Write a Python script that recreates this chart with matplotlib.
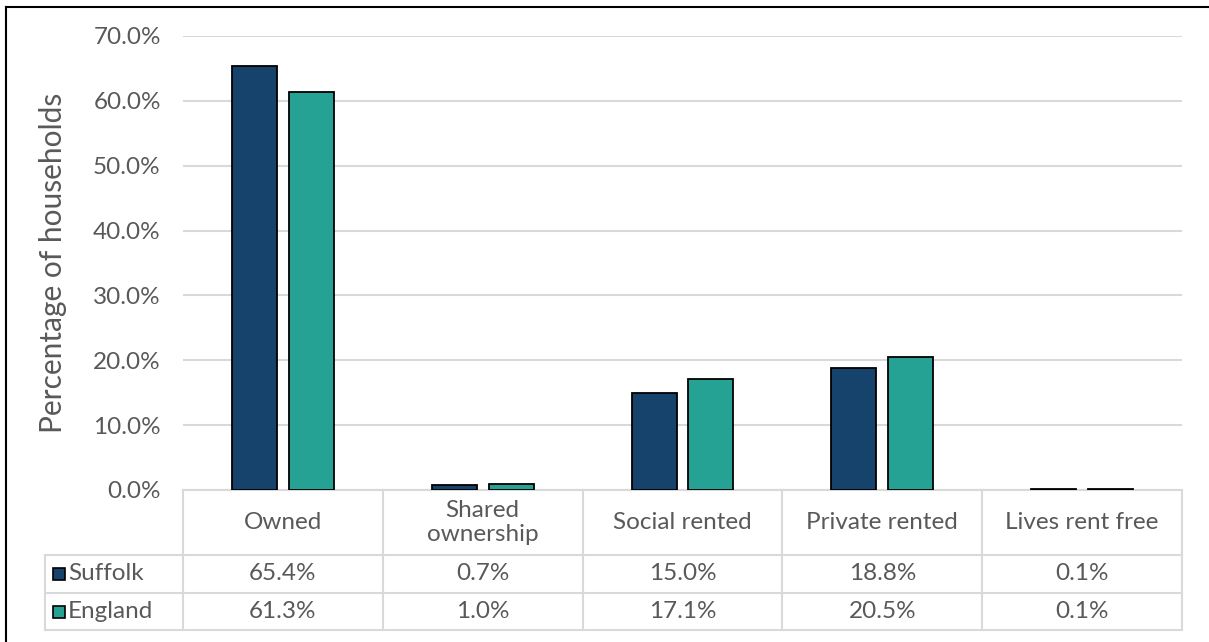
import numpy as np
import matplotlib
matplotlib.use("Agg")
import matplotlib.pyplot as plt
from matplotlib.transforms import blended_transform_factory
from matplotlib.patches import Rectangle

categories = ["Owned", "Shared\nownership", "Social rented", "Private rented", "Lives rent free"]
series = ["Suffolk", "England"]
suffolk = [65.4, 0.7, 15.0, 18.8, 0.1]
england = [61.3, 1.0, 17.1, 20.5, 0.1]
colors = ["#15436b", "#26a295"]
yticks = [0, 10, 20, 30, 40, 50, 60, 70]

TXT = "#595959"
GRID = "#d9d9d9"
FS = 17.5

plt.rcParams["font.family"] = ["Lato", "DejaVu Sans"]

W, H = 1209, 642
fig = plt.figure(figsize=(W / 100, H / 100), dpi=100)
# plot area in pixels: x 183..1182, y 36..490 (from top)
ax = fig.add_axes([183 / W, (H - 490) / H, (1182 - 183) / W, (490 - 36) / H])

x = np.arange(len(categories))
bw = 0.225
off = 0.1425
for vals, c, d in zip([suffolk, england], colors, [-off, off]):
    ax.bar(x + d, vals, bw, color=c, edgecolor="black", linewidth=1.3, zorder=3)

ax.set_xlim(-0.5, len(categories) - 0.5)
ax.set_ylim(0, 70)
ax.set_yticks(yticks)
ax.set_yticklabels(["%.1f%%" % v for v in yticks], color=TXT, fontsize=FS)
ax.tick_params(axis="y", length=0, pad=16)
ax.set_xticks([])
ax.grid(axis="y", color=GRID, linewidth=1.5, zorder=0)
for s in ax.spines.values():
    s.set_visible(False)
ax.set_ylabel("Percentage of households", color=TXT, fontsize=21.5)
ax.yaxis.set_label_coords(-116 / 999, 0.5)

# data table under the axis: x in category units, y in axes fraction
tr = blended_transform_factory(ax.transData, ax.transAxes)
px = 1 / 454.0
y_top = 0.0
y_hdr = -65 * px
y_r1 = -103 * px
y_r2 = -140 * px
x_leg = -0.5 - 138 / 200.0
x_end = len(categories) - 0.5

lk = dict(color=GRID, linewidth=1.5, transform=tr, clip_on=False, zorder=1)
ax.plot([-0.5, x_end], [y_top, y_top], **lk)
for yy in (y_hdr, y_r1, y_r2):
    ax.plot([x_leg, x_end], [yy, yy], **lk)
ax.plot([x_leg, x_leg], [y_hdr, y_r2], **lk)
for b in np.arange(-0.5, x_end + 0.01, 1.0):
    ax.plot([b, b], [y_top, y_r2], **lk)

for i, name in enumerate(categories):
    ax.text(i, (y_top + y_hdr) / 2, name, transform=tr, ha="center", va="center",
            color=TXT, fontsize=FS, linespacing=1.2)

rows = [suffolk, england]
row_mid = [(y_hdr + y_r1) / 2, (y_r1 + y_r2) / 2]
for vals, ym, name, c in zip(rows, row_mid, series, colors):
    for i, v in enumerate(vals):
        ax.text(i, ym, "%.1f%%" % v, transform=tr, ha="center", va="center",
                color=TXT, fontsize=FS)
    sq = 12 / 200.0
    ax.add_patch(Rectangle((x_leg + 8 / 200.0, ym - 6 * px), sq, 12 * px, transform=tr,
                           facecolor=c, edgecolor="black", linewidth=1.2, clip_on=False))
    ax.text(x_leg + 23 / 200.0, ym, name, transform=tr, ha="left", va="center",
            color=TXT, fontsize=FS)

# frame lines along top and left edge
fig.add_artist(plt.Line2D([6 / W, 1], [1 - 7 / H, 1 - 7 / H], color="black", linewidth=1.5))
fig.add_artist(plt.Line2D([6 / W, 6 / W], [0, 1 - 7 / H], color="black", linewidth=1.5))

fig.savefig("out.png", dpi=100, facecolor="white")
